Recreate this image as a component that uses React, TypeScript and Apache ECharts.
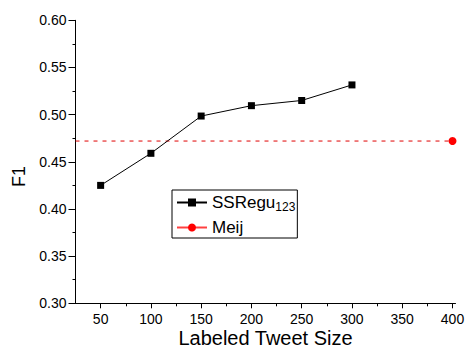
import React, { useEffect, useRef } from "react";
import * as echarts from "echarts";

const sizes = [50, 100, 150, 200, 250, 300];
const ssreguF1 = [0.425, 0.459, 0.4985, 0.5095, 0.515, 0.5315];
const meijX = [25, 400];
const meijF1 = [0.472, 0.472];
const xMajorTicks = [50, 100, 150, 200, 250, 300, 350, 400];
const xMinorTicks = [75, 125, 175, 225, 275, 325, 375];

const FONT = '"Liberation Sans", Arial, Helvetica, sans-serif';

export default function App() {
  const ref = useRef<HTMLDivElement>(null);
  useEffect(() => {
    if (!ref.current) return;
    const chart = echarts.init(ref.current, undefined, { renderer: "svg" });
    const grid = { left: 75.5, right: 9.5, top: 20.3, bottom: 45.7, outerBoundsMode: "none" };
    chart.setOption({
      animation: false,
      backgroundColor: "#fff",
      textStyle: { fontFamily: FONT },
      grid,
      xAxis: [
        {
          type: "value",
          min: 25,
          max: 403,
          name: "Labeled Tweet Size",
          nameLocation: "middle",
          nameGap: 24.3,
          nameMoveOverlap: false,
          nameTextStyle: { fontSize: 20, lineHeight: 20, color: "#000", fontFamily: FONT },
          splitLine: { show: false },
          axisLine: { show: true, onZero: false, lineStyle: { color: "#000", width: 1 } },
          axisTick: { show: true, length: 5, customValues: xMajorTicks, lineStyle: { color: "#000" } },
          axisLabel: { customValues: xMajorTicks, fontSize: 14, color: "#000", margin: 9, fontFamily: FONT },
        },
        {
          type: "value",
          min: 25,
          max: 403,
          position: "bottom",
          splitLine: { show: false },
          axisLine: { show: false },
          axisTick: { show: true, length: 3, customValues: xMinorTicks, lineStyle: { color: "#000" } },
          axisLabel: { show: false },
        },
      ],
      yAxis: {
        type: "value",
        min: 0.3,
        max: 0.6,
        interval: 0.05,
        splitLine: { show: false },
        axisLine: { show: true, lineStyle: { color: "#000", width: 1 } },
        axisTick: { show: true, length: 7, lineStyle: { color: "#000" } },
        minorTick: { show: true, splitNumber: 2, length: 3, lineStyle: { color: "#000" } },
        axisLabel: {
          fontSize: 14,
          color: "#000",
          margin: 9,
          fontFamily: FONT,
          formatter: (v: number) => v.toFixed(2),
        },
      },
      legend: {
        orient: "vertical",
        left: 172,
        top: 190,
        padding: [4, 2, 2, 4],
        itemGap: 6,
        itemWidth: 30,
        itemHeight: 10,
        borderColor: "#000",
        borderWidth: 1,
        borderRadius: 0,
        backgroundColor: "#fff",
        textStyle: {
          fontSize: 17,
          color: "#000",
          fontFamily: FONT,
          rich: {
            a: { fontSize: 17, color: "#000", fontFamily: FONT },
            b: { fontSize: 12, color: "#000", fontFamily: FONT, padding: [9, 0, 0, 0] },
          },
        },
        formatter: (name: string) => (name === "SSRegu123" ? "{a|SSRegu}{b|123}" : "{a|" + name + "}"),
        data: [
          { name: "SSRegu123" },
          { name: "Meij", lineStyle: { type: "solid", color: "#ff4040" } },
        ],
      },
      graphic: [
        {
          type: "text",
          x: 18.7,
          y: 176.5,
          rotation: Math.PI / 2,
          style: {
            text: "F1",
            fontSize: 18,
            fontFamily: FONT,
            fill: "#000",
            align: "center",
            verticalAlign: "middle",
          },
        },
      ],
      series: [
        {
          name: "SSRegu123",
          type: "line",
          data: sizes.map((s, i) => [s, ssreguF1[i]]),
          symbol: "rect",
          symbolSize: 7,
          lineStyle: { color: "#000", width: 1 },
          itemStyle: { color: "#000" },
          z: 3,
        },
        {
          name: "Meij",
          type: "line",
          data: meijX.map((x, i) => ({
            value: [x, meijF1[i]],
            symbol: i === meijX.length - 1 ? "circle" : "none",
          })),
          symbol: "circle",
          symbolSize: 8,
          showAllSymbol: true,
          lineStyle: { color: "#e00000", width: 1, type: [4, 5] },
          itemStyle: { color: "#ff0000" },
          z: 2,
        },
      ],
    });
    return () => chart.dispose();
  }, []);
  return <div ref={ref} style={{ position: "fixed", left: 0, top: 0, width: 465, height: 349 }} />;
}
